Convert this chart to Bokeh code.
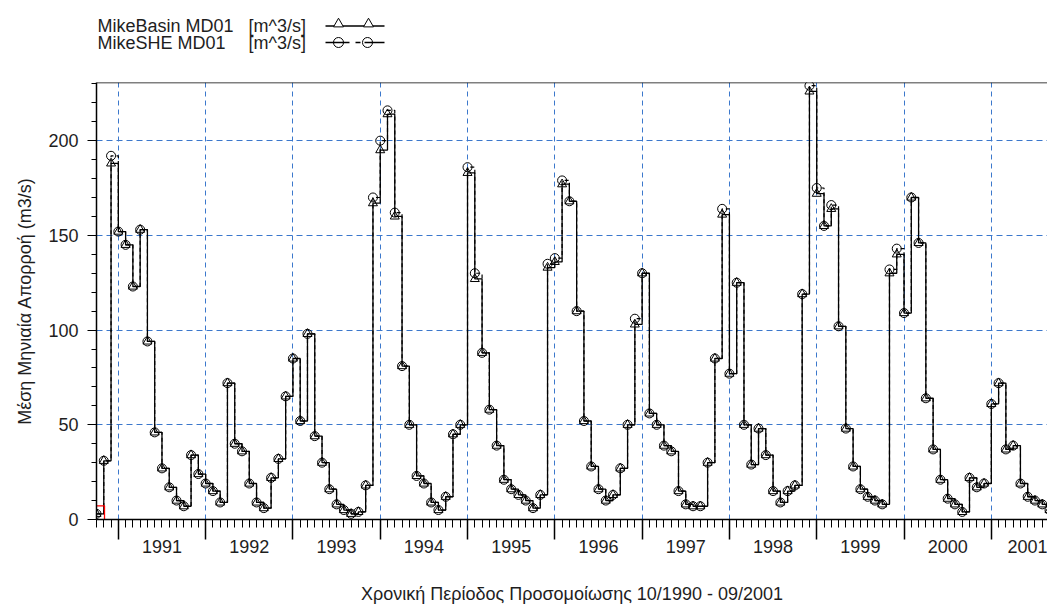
from bokeh.plotting import figure
from bokeh.layouts import column
from bokeh.models import Range1d, FixedTicker, SingleIntervalTicker, LinearAxis, Grid, Span
from bokeh.core.properties import value
from bokeh.embed import file_html
from bokeh.resources import INLINE

# ---------------- data (monthly means, Oct 1990 .. Sep 2001) ----------------
start_year = 1990
start_month = 10
basin = [3, 31, 188, 152, 145, 123, 153, 94, 46, 27, 17, 10,
         7, 34, 24, 19, 15, 9, 72, 40, 36, 19, 9, 6,
         22, 32, 65, 85, 52, 98, 44, 30, 16, 8, 5, 3,
         4, 18, 167, 195, 214, 160, 81, 50, 23, 19, 9, 5,
         12, 45, 50, 183, 127, 88, 58, 39, 21, 16, 13, 10,
         6, 13, 133, 136, 177, 168, 110, 52, 28, 16, 10, 13,
         27, 50, 103, 130, 56, 50, 39, 36, 15, 8, 7, 7,
         30, 85, 161, 77, 125, 50, 29, 48, 34, 15, 9, 15,
         18, 119, 226, 172, 155, 164, 102, 48, 28, 16, 12, 10,
         8, 130, 140, 109, 170, 146, 64, 37, 21, 11, 8, 4,
         22, 17, 19, 61, 72, 37, 39, 19, 12, 10, 8, 5]
she = [3, 31, 192, 152, 145, 123, 153, 94, 46, 27, 17, 10,
       7, 34, 24, 19, 15, 9, 72, 40, 36, 19, 9, 6,
       22, 32, 65, 85, 52, 98, 44, 30, 16, 8, 5, 3,
       4, 18, 170, 200, 216, 162, 81, 50, 23, 19, 9, 5,
       12, 45, 50, 186, 130, 88, 58, 39, 21, 16, 13, 10,
       6, 13, 135, 138, 179, 168, 110, 52, 28, 16, 10, 13,
       27, 50, 106, 130, 56, 50, 39, 36, 15, 8, 7, 7,
       30, 85, 164, 77, 125, 50, 29, 48, 34, 15, 9, 15,
       18, 119, 229, 175, 155, 166, 102, 48, 28, 16, 12, 10,
       8, 132, 143, 109, 170, 146, 64, 37, 21, 11, 8, 4,
       22, 17, 19, 61, 72, 37, 39, 19, 12, 10, 8, 5]
year_labels = ["1991", "1992", "1993", "1994", "1995", "1996",
               "1997", "1998", "1999", "2000", "2001"]
series_names = ["MikeBasin MD01", "MikeSHE MD01"]
unit_label = "[m^3/s]"
x_title = "Χρονική Περίοδος Προσομοίωσης 10/1990 - 09/2001"
y_title = "Μέση Μηνιαία Απορροή (m3/s)"

# ---------------- derived ----------------
t0 = start_year + (start_month - 1) / 12.0
t = [t0 + i / 12.0 for i in range(len(basin))]
years = [int(y) for y in year_labels]
months = [t0 + i / 12.0 for i in range(len(basin) + 1)]

FONTNAME = "Liberation Sans"
FONT = value(FONTNAME)
GRID_COLOR = "#3c78cc"
TXT = "#1e1e1e"

# ---------------- legend strip (x in window pixels; frame is aligned with the plot) ----------------
leg = figure(width=1047, height=60, x_range=Range1d(96, 1047), y_range=Range1d(60, 0),
             x_axis_type=None, y_axis_type=None, title=None, toolbar_location=None,
             output_backend="svg", min_border=0, outline_line_color=None)
leg.grid.visible = False
rows = [25.5, 42]
leg.text(x=[97, 97], y=rows, text=series_names, text_baseline="middle",
         text_font=FONT, text_font_size="18px", text_color=TXT)
leg.text(x=[248, 248], y=rows, text=[unit_label, unit_label], text_baseline="middle",
         text_font=FONT, text_font_size="18px", text_color=TXT)
leg.line([325, 384], [rows[0], rows[0]], line_color="black", line_width=1.3)
leg.scatter([338, 368], [rows[0] - 2, rows[0] - 2], marker="triangle", size=10,
            fill_color="white", line_color="black", line_width=1)
leg.line([325, 384], [rows[1], rows[1]], line_color="black", line_width=1.3, line_dash="24 6 5 4")
leg.scatter([338, 367], [rows[1], rows[1]], marker="circle", size=10,
            fill_color=None, line_color="black", line_width=1)

# ---------------- main plot ----------------
YMAX = 230.7
XSPAN = 951 / 87.3
p = figure(width=1047, height=547, title=None, toolbar_location=None, output_backend="svg",
           x_range=Range1d(t0, t0 + XSPAN), y_range=Range1d(0, YMAX),
           x_axis_type=None, y_axis_type=None,
           min_border_left=96, min_border_right=0, min_border_top=22, min_border_bottom=88,
           outline_line_color=None)

# grids
p.add_layout(Grid(dimension=0, ticker=FixedTicker(ticks=years), grid_line_color=GRID_COLOR,
                  grid_line_dash="5 4", grid_line_width=1))
p.add_layout(Grid(dimension=1, ticker=FixedTicker(ticks=[50, 100, 150, 200]),
                  grid_line_color=GRID_COLOR, grid_line_dash="6 4", grid_line_width=1))

# y axis
ya = LinearAxis(ticker=SingleIntervalTicker(interval=50, num_minor_ticks=5),
                major_tick_out=9, major_tick_in=0, minor_tick_out=5, minor_tick_in=0,
                axis_line_width=1.5, major_label_standoff=9,
                major_label_text_font=FONTNAME, major_label_text_font_size="18px",
                major_label_text_color=TXT,
                axis_label=y_title, axis_label_text_font=FONTNAME, axis_label_text_font_size="18px",
                axis_label_text_font_style="normal", axis_label_text_color=TXT,
                axis_label_standoff=10)
p.add_layout(ya, "left")

# x axis: ticks only (year boundaries long, months short)
xa = LinearAxis(ticker=FixedTicker(ticks=years, minor_ticks=months),
                major_tick_out=20, major_tick_in=0, minor_tick_out=8, minor_tick_in=0,
                axis_line_width=1.5, major_tick_line_width=1.5,
                major_label_text_color=None, major_label_text_font_size="10px",
                major_label_standoff=0)
p.add_layout(xa, "below")

# x axis: year labels centred in each year
xb = LinearAxis(ticker=FixedTicker(ticks=[y + 0.5 for y in years], minor_ticks=[]),
                major_label_overrides={y + 0.5: lbl for y, lbl in zip(years, year_labels)},
                major_tick_out=0, major_tick_in=0, minor_tick_out=0, minor_tick_in=0,
                axis_line_color=None, major_tick_line_color=None,
                major_label_standoff=0,
                major_label_text_font=FONTNAME, major_label_text_font_size="18px",
                major_label_text_color=TXT,
                axis_label=x_title, axis_label_text_font=FONTNAME, axis_label_text_font_size="18px",
                axis_label_text_font_style="normal", axis_label_text_color=TXT,
                axis_label_standoff=28)
p.add_layout(xb, "below")

# top border
p.add_layout(Span(location=YMAX, dimension="width", line_color="black", line_width=1.5))

# series
p.step(t, basin, mode="after", line_color="black", line_width=1.3)
p.step(t, she, mode="after", line_color="black", line_width=1.2, line_dash="4 3")
p.scatter(t, basin, marker="triangle", size=9, fill_color=None, line_color="black", line_width=1)
p.scatter(t, she, marker="circle", size=9, fill_color=None, line_color="black", line_width=1)

# highlighted first sample: red square marker
p.scatter([t[0]], [basin[0]], marker="square", size=16, fill_color=None,
          line_color="red", line_width=1.3)

layout = column(leg, p)
open("out.html", "w").write(file_html(layout, INLINE))
